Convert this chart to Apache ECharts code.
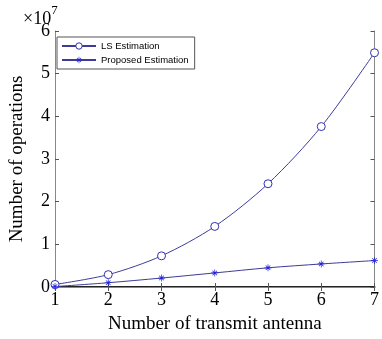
<!DOCTYPE html>
<html>
<head>
<meta charset="utf-8">
<script src="https://cdn.jsdelivr.net/npm/echarts@6/dist/echarts.min.js"></script>
<style>
html, body { margin: 0; padding: 0; background: #fff; }
#main { width: 382px; height: 339px; }
</style>
</head>
<body>
<div id="main"></div>
<script>
var antennas = [1, 2, 3, 4, 5, 6, 7];
var lsOps = [0.06, 0.29, 0.73, 1.42, 2.42, 3.76, 5.49];
var proposedOps = [0.01, 0.10, 0.21, 0.33, 0.45, 0.54, 0.62];

var myChart = echarts.init(document.getElementById('main'));
var lineColor = '#3c3c96';
var markColor = '#2020e0';
var serif = 'Liberation Serif';
var star = 'path://M-0.4,-4h0.8v8h-0.8z M-4,-0.4h8v0.8h-8z M-2.9,-2.3l0.6,-0.6l5.2,5.2l-0.6,0.6z M2.3,-2.9l0.6,0.6l-5.2,5.2l-0.6,-0.6z';

function pairs(xs, ys) {
    return xs.map(function (x, i) { return [x, ys[i]]; });
}

var option = {
    animation: false,
    grid: { left: 51, right: 2, top: 31, bottom: 48 },
    legend: {
        left: 57, top: 37,
        orient: 'vertical',
        itemWidth: 34, itemHeight: 8, itemGap: 4,
        padding: [4, 6, 4, 4],
        borderColor: '#555', borderWidth: 1,
        backgroundColor: '#fff',
        textStyle: { fontFamily: 'Liberation Sans', fontSize: 9.5, color: '#000' },
        data: [
            { name: 'LS Estimation', itemStyle: { color: '#fff', borderColor: '#3030b0', borderWidth: 1 } },
            { name: 'Proposed Estimation' }
        ]
    },
    graphic: [{
        type: 'text', left: 23, top: 4,
        style: {
            text: '{a|×10}{b|7}',
            rich: {
                a: { fontFamily: serif, fontSize: 18, fill: '#000', padding: [6, 0, 0, 0] },
                b: { fontFamily: serif, fontSize: 13, fill: '#000', verticalAlign: 'top' }
            }
        }
    }],
    xAxis: [{
        type: 'value', min: 1, max: 7, interval: 1,
        name: 'Number of transmit antenna', nameLocation: 'middle', nameGap: 28,
        nameTextStyle: { fontFamily: serif, fontSize: 19, color: '#000' },
        axisLine: { onZero: false, lineStyle: { color: '#222', width: 2 } },
        axisTick: { inside: true, length: 4, lineStyle: { color: '#555' } },
        axisLabel: { fontFamily: serif, fontSize: 18, color: '#000', margin: 4 },
        splitLine: { show: false }
    }, {
        type: 'value', min: 1, max: 7, interval: 1, position: 'top',
        axisLine: { lineStyle: { color: '#888' } },
        axisTick: { inside: true, length: 4, lineStyle: { color: '#555' } },
        axisLabel: { show: false },
        splitLine: { show: false }
    }],
    yAxis: [{
        type: 'value', min: 0, max: 6, interval: 1,
        name: 'Number of operations', nameLocation: 'middle', nameGap: 28,
        nameTextStyle: { fontFamily: serif, fontSize: 19, color: '#000' },
        axisLine: { show: true, lineStyle: { color: '#888' } },
        axisTick: { show: true, inside: true, length: 4, lineStyle: { color: '#555' } },
        axisLabel: { fontFamily: serif, fontSize: 18, color: '#000', margin: 5 },
        splitLine: { show: false }
    }, {
        type: 'value', min: 0, max: 6, interval: 1, position: 'right',
        axisLine: { show: true, lineStyle: { color: '#888' } },
        axisTick: { show: true, inside: true, length: 4, lineStyle: { color: '#555' } },
        axisLabel: { show: false },
        splitLine: { show: false }
    }],
    series: [{
        name: 'LS Estimation',
        type: 'line',
        smooth: 0.3,
        data: pairs(antennas, lsOps),
        symbol: 'circle',
        symbolSize: 8,
        lineStyle: { color: lineColor, width: 1 },
        itemStyle: { color: '#fff', borderColor: '#3030b0', borderWidth: 1 }
    }, {
        name: 'Proposed Estimation',
        type: 'line',
        smooth: 0.3,
        data: pairs(antennas, proposedOps),
        symbol: star,
        symbolSize: 7,
        lineStyle: { color: lineColor, width: 1 },
        itemStyle: { color: markColor }
    }]
};

myChart.setOption(option);
</script>
</body>
</html>
